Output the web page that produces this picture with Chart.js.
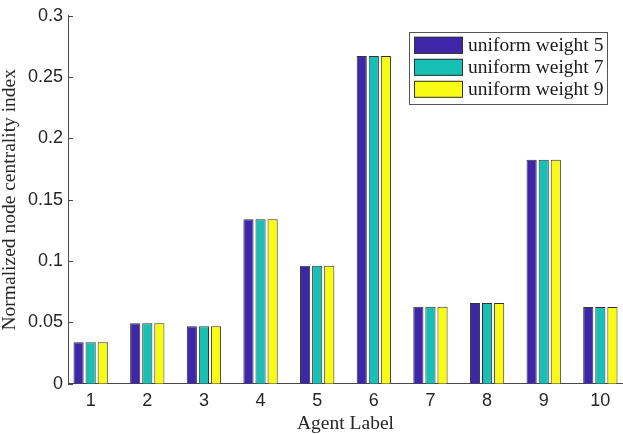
<!DOCTYPE html>
<html>
<head>
<meta charset="utf-8">
<script src="https://cdn.jsdelivr.net/npm/chart.js@4"></script>
<style>
  html, body { margin: 0; padding: 0; background: #fff; }
  #wrap { width: 623px; height: 434px; position: relative; }
</style>
</head>
<body>
<div id="wrap"><canvas id="barChart"></canvas></div>
<script>
// data
const categories = [1, 2, 3, 4, 5, 6, 7, 8, 9, 10];
const xTickLabels = ['1', '2', '3', '4', '5', '6', '7', '8', '9', '10'];
const seriesNames = ['uniform weight 5', 'uniform weight 7', 'uniform weight 9'];
const weight5 = [0.0337, 0.0492, 0.0469, 0.1340, 0.0961, 0.2672, 0.0627, 0.0659, 0.1827, 0.0625];
const weight7 = [0.0337, 0.0492, 0.0469, 0.1340, 0.0961, 0.2672, 0.0627, 0.0659, 0.1827, 0.0625];
const weight9 = [0.0337, 0.0492, 0.0469, 0.1340, 0.0961, 0.2672, 0.0627, 0.0659, 0.1827, 0.0625];
const yTicks = [0, 0.05, 0.1, 0.15, 0.2, 0.25, 0.3];
const yTickLabels = ['0', '0.05', '0.1', '0.15', '0.2', '0.25', '0.3'];

const barColors = ['#3e26a8', '#17bfb4', '#f9fb15'];
const axisColor = '#4a4a4a';
const serif = '"Liberation Serif", "DejaVu Serif", serif';
const sans = '"Liberation Sans", Arial, sans-serif';

function toPoints(vals){
  return vals.map((v, i) => ({ x: categories[i], y: v }));
}

// matlab style ticks pointing into the plot
const innerTicks = {
  id: 'innerTicks',
  afterDraw(chart){
    const {ctx, chartArea, scales} = chart;
    ctx.save();
    ctx.strokeStyle = axisColor;
    ctx.lineWidth = 1;
    ctx.beginPath();
    yTicks.forEach(v => {
      const y = Math.round(scales.y.getPixelForValue(v)) + 0.5;
      ctx.moveTo(chartArea.left, y);
      ctx.lineTo(chartArea.left + 5, y);
    });
    ctx.stroke();
    ctx.restore();
  }
};

// legend box inside the axes, top right
const boxLegend = {
  id: 'boxLegend',
  afterDraw(chart){
    const {ctx, chartArea} = chart;
    const sets = chart.data.datasets;
    const w = 198, rowH = 22, h = 6 + rowH * sets.length;
    const x0 = chartArea.right - 16 - w;
    const y0 = chartArea.top + 16;
    ctx.save();
    ctx.fillStyle = '#fff';
    ctx.fillRect(x0, y0, w, h);
    ctx.strokeStyle = '#555';
    ctx.lineWidth = 1;
    ctx.strokeRect(Math.round(x0) + 0.5, Math.round(y0) + 0.5, w, h);
    ctx.font = '19.5px ' + serif;
    ctx.textBaseline = 'middle';
    sets.forEach((ds, i) => {
      const sy = y0 + 5 + i * rowH;
      ctx.fillStyle = ds.backgroundColor;
      ctx.fillRect(x0 + 5, sy, 49, 17);
      ctx.strokeStyle = '#333';
      ctx.strokeRect(x0 + 5.5, sy + 0.5, 48, 16);
      ctx.fillStyle = '#1a1a1a';
      ctx.fillText(ds.label, x0 + 59, sy + 9);
    });
    ctx.restore();
  }
};

const ctx = document.getElementById('barChart').getContext('2d');
new Chart(ctx, {
  type: 'bar',
  data: {
    datasets: [
      { label: seriesNames[0], data: toPoints(weight5), backgroundColor: barColors[0] },
      { label: seriesNames[1], data: toPoints(weight7), backgroundColor: barColors[1] },
      { label: seriesNames[2], data: toPoints(weight9), backgroundColor: barColors[2] }
    ]
  },
  options: {
    responsive: true,
    maintainAspectRatio: false,
    animation: false,
    devicePixelRatio: 1,
    layout: { autoPadding: false, padding: { top: 6, right: 0, bottom: 0, left: 0 } },
    datasets: {
      bar: {
        borderColor: '#333',
        borderWidth: 1,
        categoryPercentage: 0.64,
        barPercentage: 0.84
      }
    },
    plugins: {
      legend: { display: false },
      tooltip: { enabled: false }
    },
    scales: {
      x: {
        type: 'linear',
        min: 0.6,
        max: 10.4,
        offset: false,
        grid: { display: false, drawTicks: false },
        border: { display: true, color: axisColor, width: 1 },
        afterBuildTicks: s => { s.ticks = categories.map(v => ({ value: v })); },
        afterFit: s => { s.height = 50.3; },
        ticks: {
          padding: 7,
          color: '#262626',
          font: { family: sans, size: 18 },
          maxRotation: 0,
          autoSkip: false,
          callback: (v, i) => xTickLabels[i]
        },
        title: {
          display: true,
          text: 'Agent Label',
          color: '#262626',
          font: { family: serif, size: 19.5, lineHeight: 1 },
          padding: { top: 0, bottom: 0 }
        }
      },
      y: {
        min: 0,
        max: 0.3,
        grid: { display: false, drawTicks: false },
        border: { display: true, color: axisColor, width: 1 },
        afterBuildTicks: s => { s.ticks = yTicks.map(v => ({ value: v })); },
        afterFit: s => { s.width = 68; },
        ticks: {
          padding: 5,
          color: '#262626',
          font: { family: sans, size: 18 },
          callback: (v, i) => yTickLabels[i]
        },
        title: {
          display: true,
          text: 'Normalized node centrality index',
          color: '#262626',
          font: { family: serif, size: 19.5, lineHeight: 1 },
          padding: { top: 0, bottom: 0 }
        }
      }
    }
  },
  plugins: [innerTicks, boxLegend]
});
</script>
</body>
</html>
